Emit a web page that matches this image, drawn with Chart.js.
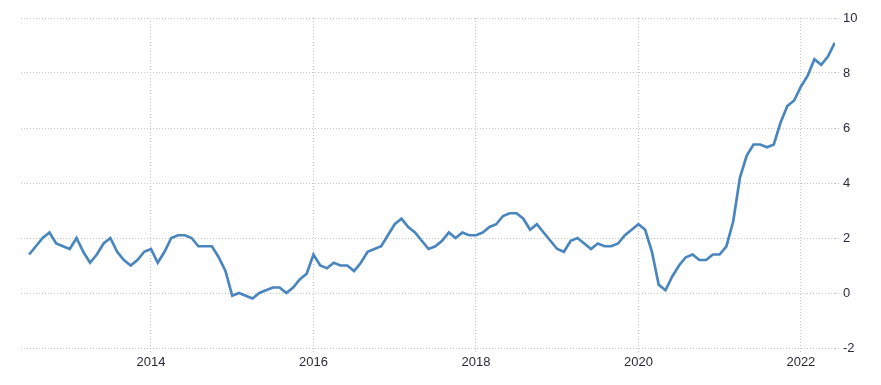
<!DOCTYPE html>
<html>
<head>
<meta charset="utf-8">
<script src="https://cdn.jsdelivr.net/npm/chart.js@4/dist/chart.umd.min.js"></script>
<style>
  html, body { margin: 0; padding: 0; background: #fff; }
  #wrap { width: 881px; height: 385px; }
</style>
</head>
<body>
<div id="wrap"><canvas id="cpi"></canvas></div>
<script>
// monthly readings, first one is July 2012, last one June 2022
let start_year = 2012;
let start_month = 7;
let cpi = [
    1.4, 1.7, 2.0, 2.2, 1.8, 1.7,
    1.6, 2.0, 1.5, 1.1, 1.4, 1.8, 2.0, 1.5, 1.2, 1.0, 1.2, 1.5,
    1.6, 1.1, 1.5, 2.0, 2.1, 2.1, 2.0, 1.7, 1.7, 1.7, 1.3, 0.8,
    -0.1, 0.0, -0.1, -0.2, 0.0, 0.1, 0.2, 0.2, 0.0, 0.2, 0.5, 0.7,
    1.4, 1.0, 0.9, 1.1, 1.0, 1.0, 0.8, 1.1, 1.5, 1.6, 1.7, 2.1,
    2.5, 2.7, 2.4, 2.2, 1.9, 1.6, 1.7, 1.9, 2.2, 2.0, 2.2, 2.1,
    2.1, 2.2, 2.4, 2.5, 2.8, 2.9, 2.9, 2.7, 2.3, 2.5, 2.2, 1.9,
    1.6, 1.5, 1.9, 2.0, 1.8, 1.6, 1.8, 1.7, 1.7, 1.8, 2.1, 2.3,
    2.5, 2.3, 1.5, 0.3, 0.1, 0.6, 1.0, 1.3, 1.4, 1.2, 1.2, 1.4,
    1.4, 1.7, 2.6, 4.2, 5.0, 5.4, 5.4, 5.3, 5.4, 6.2, 6.8, 7.0,
    7.5, 7.9, 8.5, 8.3, 8.6, 9.1
];
let year_ticks = [2014, 2016, 2018, 2020, 2022];
let value_ticks = [-2, 0, 2, 4, 6, 8, 10];

let points = [];
for (let i = 0; i < cpi.length; i++) {
    let m = start_month - 1 + i;
    points.push({ x: start_year + m / 12, y: cpi[i] });
}

let grid_color = "#c4c4c4";
let text_color = "#2b2b3a";
let font = { family: "'Liberation Sans', Arial, sans-serif", size: 13 };

new Chart(document.getElementById("cpi"), {
    type: "line",
    data: {
        datasets: [{
            data: points,
            borderColor: "#4a86be",
            borderWidth: 2.7,
            pointRadius: 0,
            tension: 0,
            fill: false
        }]
    },
    options: {
        responsive: true,
        maintainAspectRatio: false,
        animation: false,
        layout: { padding: { left: 21, top: 18, right: 0, bottom: 0 } },
        plugins: { legend: { display: false }, tooltip: { enabled: false } },
        scales: {
            x: {
                type: "linear",
                min: 2012.4,
                max: 2022.42,
                border: { display: false, dash: [1, 2] },
                grid: {
                    color: grid_color,
                    tickBorderDash: [1, 2],
                    tickColor: grid_color,
                    tickLength: 4
                },
                ticks: {
                    color: text_color,
                    font: font,
                    padding: 3,
                    maxRotation: 0,
                    callback: (v) => String(v)
                },
                afterBuildTicks: (axis) => {
                    axis.ticks = year_ticks.map(v => ({ value: v }));
                },
                afterFit: (axis) => { axis.height = 37; }
            },
            y: {
                position: "right",
                min: -2,
                max: 10,
                border: { display: false, dash: [1, 2] },
                grid: {
                    color: grid_color,
                    tickBorderDash: [1, 2],
                    tickColor: grid_color,
                    tickLength: 6
                },
                ticks: {
                    color: text_color,
                    font: font,
                    padding: 2
                },
                afterBuildTicks: (axis) => {
                    axis.ticks = value_ticks.map(v => ({ value: v }));
                },
                afterFit: (axis) => { axis.width = 46; }
            }
        }
    }
});
</script>
</body>
</html>
